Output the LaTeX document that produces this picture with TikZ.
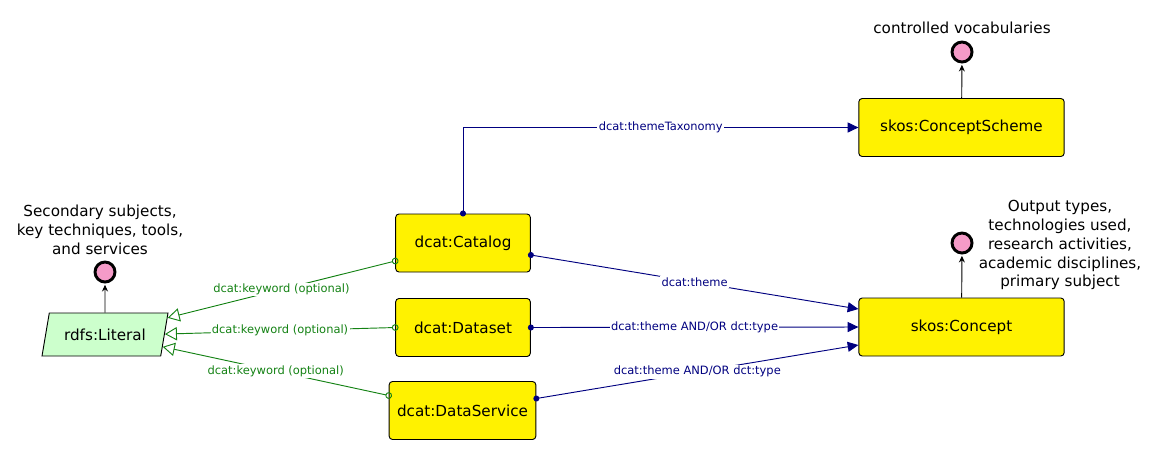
\documentclass[tikz,border=0pt]{standalone}
\usepackage{fontspec}
\setmainfont{DejaVu Sans}
\usetikzlibrary{shapes.geometric,arrows.meta,calc}

\definecolor{navy}{RGB}{0,0,128}
\definecolor{kwgreen}{RGB}{20,130,20}
\definecolor{litgreen}{RGB}{204,255,204}
\definecolor{dotpink}{RGB}{245,155,200}

\tikzset{
  cls/.style={draw, fill=yellow, rounded corners=2.5pt, line width=0.7pt,
    minimum height=43.5pt, font=\fontsize{11.4}{14}\selectfont},
  note/.style={align=center, font=\fontsize{11.4}{14.2}\selectfont},
  pinkdot/.style={circle, draw, fill=dotpink, line width=2.2pt,
    minimum size=15pt, inner sep=0pt},
  pointer/.style={line width=0.7pt, shorten >=1pt, -{Stealth[length=5pt,width=4.5pt]}},
  theme/.style={navy, line width=0.7pt, shorten <=-2.2pt,
    {Circle[length=4.5pt]}-{Triangle[length=8pt,width=7.5pt]}},
  keyword/.style={kwgreen, line width=0.7pt, shorten <=-2.5pt,
    {Circle[open,length=5pt]}-{Triangle[open,length=9pt,width=10pt]}},
  themelbl/.style={fill=white, inner sep=1pt, text=navy, font=\fontsize{8.6}{10}\selectfont},
  kwlbl/.style={fill=white, inner sep=1pt, text=kwgreen, font=\fontsize{8.6}{10}\selectfont}
}

\begin{document}
\begin{tikzpicture}[x=0.75pt, y=-0.75pt]
  \useasboundingbox (0,0) rectangle (1166,455);

  \node [cls, minimum width=101pt] (catalog) at (463,243) {dcat:Catalog};
  \node [cls, minimum width=101pt] (dataset) at (463,327.5) {dcat:Dataset};
  \node [cls, minimum width=110pt] (service) at (462.5,410.5) {dcat:DataService};
  \node [cls, minimum width=154pt] (concept) at (961.5,327) {skos:Concept};
  \node [cls, minimum width=154pt] (scheme) at (961.5,127.5) {skos:ConceptScheme};
  \node [draw, fill=litgreen, trapezium, trapezium left angle=74, trapezium right angle=106,
    trapezium stretches, minimum width=94.5pt, minimum height=32.25pt, line width=0.7pt,
    font=\fontsize{11.4}{14}\selectfont] (lit) at (105,334.5) {rdfs:Literal};

  % notes
  \node [pinkdot] (litdot) at (105,272) {};
  \node [pinkdot] (schemedot) at (962,52) {};
  \node [pinkdot] (conceptdot) at (962,243) {};
  \node [note] (litnote) at (100,230) {Secondary subjects,\\key techniques, tools,\\and services};
  \node [note] (schemenote) at (962,28) {controlled vocabularies};
  \node [note] (conceptnote) at (1060,245) {Output types,\\technologies used,\\research activities,\\academic disciplines,\\primary subject};
  \draw [pointer] (lit) -- (litdot);
  \draw [pointer] (scheme) -- (schemedot);
  \draw [pointer] (concept) -- (conceptdot);

  % dcat:theme
  \draw [theme] (catalog.north) |- node [themelbl, pos=0.75] {dcat:themeTaxonomy} (scheme.west);
  \draw [theme] ($(catalog.east)+(0,12)$) -- node [themelbl] {dcat:theme} ($(concept.west)+(0,-18)$);
  \draw [theme] (dataset.east) -- node [themelbl] {dcat:theme AND/OR dct:type} (concept.west);
  \draw [theme] ($(service.east)+(0,-12)$) -- node [themelbl] {dcat:theme AND/OR dct:type} ($(concept.west)+(0,18)$);

  % dcat:keyword
  \draw [keyword] ($(catalog.west)+(0,18)$) -- node [kwlbl] {dcat:keyword (optional)}
    ($(lit.top right corner)!0.12!(lit.bottom right corner)$);
  \draw [keyword] (dataset.west) -- node [kwlbl] {dcat:keyword (optional)}
    ($(lit.top right corner)!0.49!(lit.bottom right corner)$);
  \draw [keyword] ($(service.west)+(0,-15)$) -- node [kwlbl] {dcat:keyword (optional)}
    ($(lit.top right corner)!0.78!(lit.bottom right corner)$);
\end{tikzpicture}
\end{document}
